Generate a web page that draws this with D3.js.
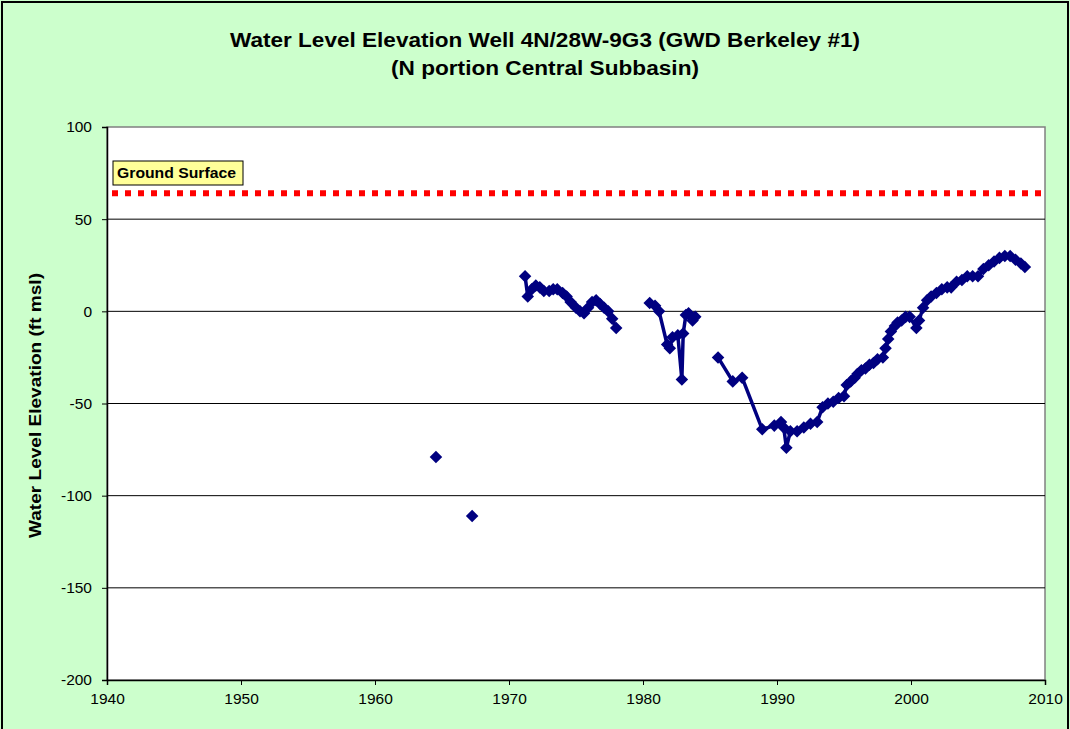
<!DOCTYPE html>
<html>
<head>
<meta charset="utf-8">
<script src="https://cdn.jsdelivr.net/npm/d3@7"></script>
<style>
html,body{margin:0;padding:0;background:#CCFFCC;}
svg{display:block;}
text{font-family:Arial,"Liberation Sans",sans-serif;}
</style>
</head>
<body>
<svg id="chart" width="1070" height="729"></svg>
<script>
// ---- data ----
const titleLines = ["Water Level Elevation Well 4N/28W-9G3 (GWD Berkeley #1)", "(N portion Central Subbasin)"];
const yAxisTitle = "Water Level Elevation (ft msl)";
const xTicks = [1940, 1950, 1960, 1970, 1980, 1990, 2000, 2010];
const yTicks = [-200, -150, -100, -50, 0, 50, 100];
const groundSurfaceLabel = "Ground Surface";
const groundSurfaceElevation = 64;

// water level measurements (year, ft msl); null marks a gap in the record
const years = [
  1964.55, null,
  1967.25, null,
  1971.2, 1971.4, 1971.7, 1972.0, 1972.3, 1972.6, 1973.0, 1973.3, 1973.6, 1974.0, 1974.3, 1974.6, 1975.0, 1975.3, 1975.6, 1975.9, 1976.2, 1976.5, 1976.8, 1977.1, 1977.4, 1977.7, 1978.0, null,
  1980.5, 1980.9, 1981.2, 1981.8, 1982.0, 1982.2, 1982.6, 1982.9, 1983.0, 1983.2, 1983.4, 1983.7, 1983.9, null,
  1985.6, 1986.7, 1987.4, 1988.9, 1989.8, 1990.3, 1990.5, 1990.7, 1991.0, 1991.5, 1992.0, 1992.5, 1993.0, 1993.4,
  1993.8, 1994.2, 1994.6, 1995.0, 1995.2, 1995.5, 1995.8, 1996.0, 1996.3, 1996.6, 1996.9, 1997.2, 1997.5, 1997.9,
  1998.1, 1998.3, 1998.5, 1998.8, 1999.0, 1999.3, 1999.6, 1999.9, 2000.4, 2000.6, 2000.9, 2001.2, 2001.5, 2001.9,
  2002.3, 2002.7, 2003.0, 2003.4, 2003.8, 2004.2, 2004.6, 2005.0, 2005.4, 2005.8, 2006.2, 2006.6, 2007.0, 2007.4,
  2007.8, 2008.2, 2008.5
];
const levels = [
  -79, null,
  -111, null,
  19, 8, 12, 14, 13, 11, 11, 12, 12, 10, 8, 5, 2, 0, -1, 2, 5, 6, 4, 2, 0, -4, -9, null,
  4.5, 3, 0, -18, -20, -14, -13, -37, -12, -2, -1, -5, -3, null,
  -25, -38, -36, -64, -62, -60, -63, -74, -65, -65, -63, -61, -60, -52,
  -50, -49, -47, -46, -40, -38, -36, -34, -32, -31, -29, -28, -26, -25,
  -20, -15, -11, -8, -6, -5, -3, -3, -9, -5, 2, 6, 8, 10,
  12, 13, 13, 16, 17, 19, 19, 19, 23, 25, 27, 29, 30, 30,
  28, 26, 24
];

// ---- layout ----
const svg = d3.select("#chart");
const W = 1070, H = 729;
const plot = {left: 107, right: 1045, top: 127, bottom: 680};

svg.append("rect").attr("x", 0).attr("y", 0).attr("width", W).attr("height", H).attr("fill", "#CCFFCC");
svg.append("rect").attr("x", 2).attr("y", 2).attr("width", W - 4).attr("height", H + 10)
  .attr("fill", "none").attr("stroke", "#000").attr("stroke-width", 2);

const x = d3.scaleLinear().domain([1940, 2010]).range([plot.left, plot.right]);
const y = d3.scaleLinear().domain([-200, 100]).range([plot.bottom, plot.top]);

// plot area
svg.append("rect").attr("x", plot.left).attr("y", plot.top)
  .attr("width", plot.right - plot.left).attr("height", plot.bottom - plot.top)
  .attr("fill", "#fff").attr("stroke", "#808080").attr("stroke-width", 1.5);

// gridlines
svg.append("g").selectAll("line").data(yTicks.filter(v => v > -200 && v < 100)).join("line")
  .attr("x1", plot.left).attr("x2", plot.right)
  .attr("y1", d => y(d)).attr("y2", d => y(d))
  .attr("stroke", "#000").attr("stroke-width", 1);

// axes
const fmt = d => String(d);
const yAxis = svg.append("g").attr("transform", `translate(${plot.left},0)`)
  .call(d3.axisLeft(y).tickValues(yTicks).tickSize(5).tickPadding(10).tickFormat(fmt));
const xAxis = svg.append("g").attr("transform", `translate(0,${plot.bottom})`)
  .call(d3.axisBottom(x).tickValues(xTicks).tickSize(5).tickPadding(8).tickFormat(fmt));
[yAxis, xAxis].forEach(a => {
  a.select(".domain").attr("stroke", "#000").attr("stroke-width", 1.5);
  a.selectAll(".tick line").attr("stroke", "#000");
  a.selectAll("text").attr("font-size", 15.5).attr("fill", "#000")
    .attr("font-family", "Arial, 'Liberation Sans', sans-serif");
});

// ground surface line
svg.append("line")
  .attr("x1", plot.left + 5).attr("x2", plot.right)
  .attr("y1", y(groundSurfaceElevation)).attr("y2", y(groundSurfaceElevation))
  .attr("stroke", "#FF0000").attr("stroke-width", 6).attr("stroke-dasharray", "6,7");

// ground surface label
const lab = svg.append("g");
lab.append("rect").attr("x", 113).attr("y", 161).attr("width", 130).attr("height", 24)
  .attr("fill", "#FFFF99").attr("stroke", "#000").attr("stroke-width", 1);
lab.append("text").attr("x", 117).attr("y", 178).attr("font-size", 14).attr("font-weight", "bold")
  .attr("textLength", 119).attr("lengthAdjust", "spacingAndGlyphs")
  .text(groundSurfaceLabel);

// data series
const pts = years.map((yr, i) => ({yr, v: levels[i]}));
const line = d3.line().defined(d => d.yr !== null && d.v !== null)
  .x(d => x(d.yr)).y(d => y(d.v));
svg.append("path").datum(pts).attr("d", line)
  .attr("fill", "none").attr("stroke", "#000080").attr("stroke-width", 3.5).attr("stroke-linejoin", "round");
const sym = d3.symbol().type(d3.symbolDiamond2).size(100);
svg.append("g").selectAll("path").data(pts.filter(d => d.yr !== null)).join("path")
  .attr("transform", d => `translate(${x(d.yr)},${y(d.v)})`)
  .attr("d", sym).attr("fill", "#000080");

// titles
const titleWidths = [630, 308];
svg.append("g").selectAll("text").data(titleLines).join("text")
  .attr("x", 545).attr("y", (d, i) => 47 + i * 28)
  .attr("text-anchor", "middle").attr("font-size", 19.5).attr("font-weight", "bold")
  .attr("textLength", (d, i) => titleWidths[i]).attr("lengthAdjust", "spacingAndGlyphs")
  .text(d => d);

svg.append("text")
  .attr("transform", `translate(41,${(plot.top + plot.bottom) / 2 + 2}) rotate(-90)`)
  .attr("text-anchor", "middle").attr("font-size", 17).attr("font-weight", "bold")
  .attr("textLength", 265).attr("lengthAdjust", "spacingAndGlyphs")
  .text(yAxisTitle);
</script>
</body>
</html>
